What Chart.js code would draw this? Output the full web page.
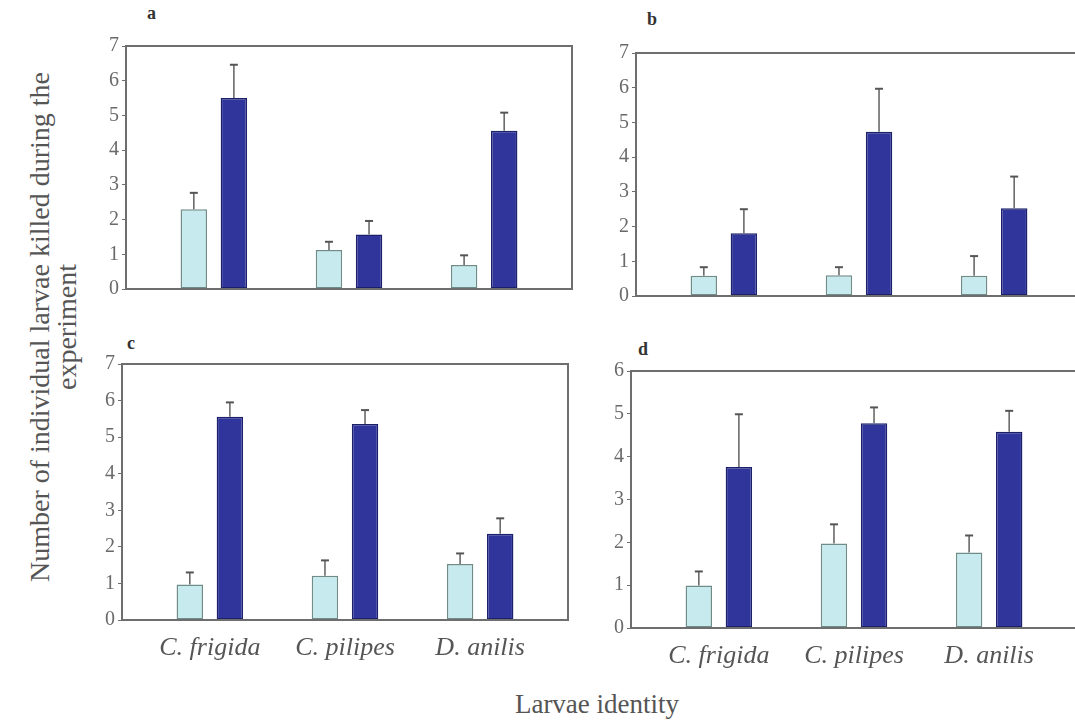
<!DOCTYPE html>
<html>
<head>
<meta charset="utf-8">
<script src="https://cdn.jsdelivr.net/npm/chart.js@4/dist/chart.umd.min.js"></script>
<style>
  html, body { margin: 0; padding: 0; background: #fff; }
  body { width: 1075px; height: 724px; overflow: hidden; position: relative; font-family: "Liberation Serif", "DejaVu Serif", serif; }
  canvas { position: absolute; }
  .panel-tag { position: absolute; font-weight: bold; font-size: 18px; color: #333; }
  .y-title { position: absolute; left: 53px; top: 327px; width: 700px; transform: translate(-50%, -50%) rotate(-90deg);
             text-align: center; font-size: 28px; line-height: 27px; color: #555; }
  .x-title { position: absolute; left: 597px; top: 704px; transform: translate(-50%, -50%); font-size: 27px; color: #555; white-space: nowrap; }
</style>
</head>
<body>

<div class="panel-tag" style="left:147px; top:3px;">a</div>
<div class="panel-tag" style="left:647px; top:9px;">b</div>
<div class="panel-tag" style="left:127px; top:333px;">c</div>
<div class="panel-tag" style="left:638px; top:339px;">d</div>

<div class="y-title">Number of individual larvae killed during the<br>experiment</div>
<div class="x-title">Larvae identity</div>

<canvas id="chartA" width="510" height="273" style="left:66px; top:31px;"></canvas>
<canvas id="chartB" width="510" height="273" style="left:576px; top:38px;"></canvas>
<canvas id="chartC" width="510" height="321" style="left:62px; top:349px;"></canvas>
<canvas id="chartD" width="510" height="322" style="left:571px; top:356px;"></canvas>

<script>
// =====================
//  DATA
// =====================
const SPECIES = ["C. frigida", "C. pilipes", "D. anilis"];

// panel a
const paleA = [2.3, 1.12, 0.69];
const paleErrA = [0.47, 0.24, 0.28];
const darkA = [5.5, 1.57, 4.56];
const darkErrA = [0.96, 0.39, 0.52];

// panel b
const paleB = [0.58, 0.6, 0.58];
const paleErrB = [0.25, 0.23, 0.57];
const darkB = [1.81, 4.73, 2.53];
const darkErrB = [0.69, 1.24, 0.91];

// panel c
const paleC = [0.97, 1.21, 1.53];
const paleErrC = [0.33, 0.42, 0.29];
const darkC = [5.56, 5.36, 2.36];
const darkErrC = [0.39, 0.38, 0.42];

// panel d
const paleD = [0.99, 1.97, 1.76];
const paleErrD = [0.33, 0.45, 0.4];
const darkD = [3.76, 4.78, 4.58];
const darkErrD = [1.23, 0.37, 0.49];

const Y_MAX = { a: 7, b: 7, c: 7, d: 6 };

// =====================
//  STYLE
// =====================
const PALE_FILL = "#c6eaee";
const PALE_EDGE = "#6f8c88";
const DARK_FILL = "#2f359a";
const DARK_EDGE = "#1b2068";
const AXIS_GREY = "#6e6e6e";
const SERIF = "'Liberation Serif', 'DejaVu Serif', serif";

// box round the plot area (left, top, right, bottom)
const framePlugin = {
    id: "frame",
    afterDatasetsDraw(chart) {
        const { ctx, chartArea: a } = chart;
        ctx.save();
        ctx.strokeStyle = AXIS_GREY;
        ctx.lineWidth = 2;
        ctx.strokeRect(a.left, a.top, a.right - a.left, a.bottom - a.top);
        ctx.restore();
    }
};

// one-sided (upper) error bars, values come from dataset.errors
const errorBarPlugin = {
    id: "errorBars",
    afterDatasetsDraw(chart) {
        const ctx = chart.ctx;
        const yScale = chart.scales.y;
        chart.data.datasets.forEach((ds, di) => {
            const meta = chart.getDatasetMeta(di);
            meta.data.forEach((bar, i) => {
                const top = yScale.getPixelForValue(ds.data[i].y + ds.errors[i]);
                ctx.save();
                ctx.strokeStyle = "#6a6a6a";
                ctx.lineWidth = 1.6;
                ctx.beginPath();
                ctx.moveTo(bar.x, bar.y);
                ctx.lineTo(bar.x, top);
                ctx.stroke();
                ctx.strokeStyle = "#555";
                ctx.lineWidth = 2;
                ctx.beginPath();
                ctx.moveTo(bar.x - 4, top);
                ctx.lineTo(bar.x + 4, top);
                ctx.stroke();
                ctx.restore();
            });
        });
    }
};

function toPoints(values) {
    return values.map((v, i) => ({ x: i, y: v }));
}

function makePanel(canvasId, yMax, pale, paleErr, dark, darkErr, showLabels, labelPad) {
    const ctx = document.getElementById(canvasId).getContext("2d");
    return new Chart(ctx, {
        type: "bar",
        data: {
            datasets: [
                {
                    label: "pale",
                    data: toPoints(pale),
                    errors: paleErr,
                    backgroundColor: PALE_FILL,
                    borderColor: PALE_EDGE,
                    borderWidth: 1.5,
                    borderSkipped: false
                },
                {
                    label: "dark",
                    data: toPoints(dark),
                    errors: darkErr,
                    backgroundColor: DARK_FILL,
                    borderColor: DARK_EDGE,
                    borderWidth: 1.5,
                    borderSkipped: false
                }
            ]
        },
        options: {
            responsive: false,
            animation: false,
            devicePixelRatio: 1,
            categoryPercentage: 0.593,
            barPercentage: 0.66,
            layout: { padding: { top: 12, right: 4, left: 0, bottom: 0 } },
            plugins: {
                legend: { display: false },
                tooltip: { enabled: false }
            },
            scales: {
                x: {
                    type: "linear",
                    min: -0.65,
                    max: 2.65,
                    offset: false,
                    afterBuildTicks: (axis) => {
                        axis.ticks = SPECIES.map((_, i) => ({ value: i }));
                    },
                    afterFit: (axis) => { axis.height = showLabels ? 50 : 2; },
                    grid: { display: false, drawTicks: false, offset: false },
                    border: { display: false },
                    ticks: {
                        display: showLabels,
                        padding: labelPad,
                        maxRotation: 0,
                        autoSkip: false,
                        color: "#555",
                        font: { family: SERIF, size: 26, style: "italic" },
                        callback: (v) => SPECIES[v]
                    }
                },
                y: {
                    min: 0,
                    max: yMax,
                    afterFit: (axis) => { axis.width = 60; },
                    grid: { drawOnChartArea: false, drawTicks: true, tickLength: 4, color: AXIS_GREY },
                    border: { display: false },
                    ticks: {
                        stepSize: 1,
                        padding: 3,
                        color: "#6a6a6a",
                        font: { family: SERIF, size: 20 }
                    }
                }
            }
        },
        plugins: [framePlugin, errorBarPlugin]
    });
}

makePanel("chartA", Y_MAX.a, paleA, paleErrA, darkA, darkErrA, false, 0);
makePanel("chartB", Y_MAX.b, paleB, paleErrB, darkB, darkErrB, false, 0);
makePanel("chartC", Y_MAX.c, paleC, paleErrC, darkC, darkErrC, true, 13);
makePanel("chartD", Y_MAX.d, paleD, paleErrD, darkD, darkErrD, true, 13);
</script>
</body>
</html>
